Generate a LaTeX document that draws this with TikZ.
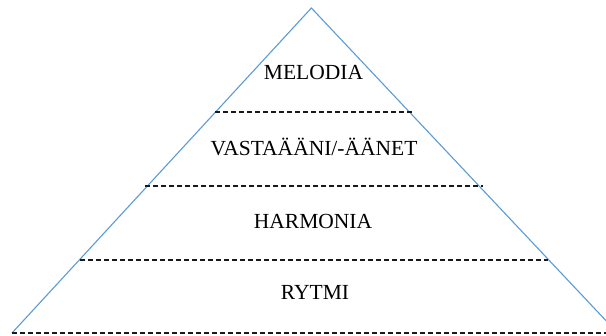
\documentclass[tikz,border=0pt]{standalone}
\usepackage{fontspec}
\setmainfont{Liberation Serif}
\definecolor{triblue}{RGB}{91,155,213}
\begin{document}
\begin{tikzpicture}[x=1pt,y=-1pt,
  edge/.style={draw=triblue,line width=1.1pt},
  sep/.style={draw=black!90,line width=2pt,dash pattern=on 5pt off 3pt},
  lab/.style={anchor=base,inner sep=0pt,font=\fontsize{21.5}{25}\selectfont}]
\useasboundingbox (0,0) rectangle (606,336);
\clip (0,0) rectangle (606,336);
\coordinate (apex) at (311.4,8);
\coordinate (bl) at (12,333);
\coordinate (br) at (617.6,333);
\draw[edge] (bl) -- (apex) -- (br);
\coordinate (l1a) at (215,112.5); \coordinate (l1b) at (413,112.5);
\coordinate (l2a) at (145,186.5); \coordinate (l2b) at (483,186.5);
\coordinate (l3a) at (80,260.5); \coordinate (l3b) at (548,260.5);
\coordinate (l4a) at (12,333); \coordinate (l4b) at (606,333);
\draw[sep] (l1a) -- (l1b);
\draw[sep] (l2a) -- (l2b);
\draw[sep] (l3a) -- (l3b);
\draw[sep] (l4a) -- (l4b);
\node[lab] (t1) at (313.5,80) {MELODIA};
\node[lab] (t2) at (314,156) {VASTAÄÄNI/-ÄÄNET};
\node[lab] (t3) at (313,229) {HARMONIA};
\node[lab] (t4) at (315,300) {RYTMI};
\end{tikzpicture}
\end{document}
